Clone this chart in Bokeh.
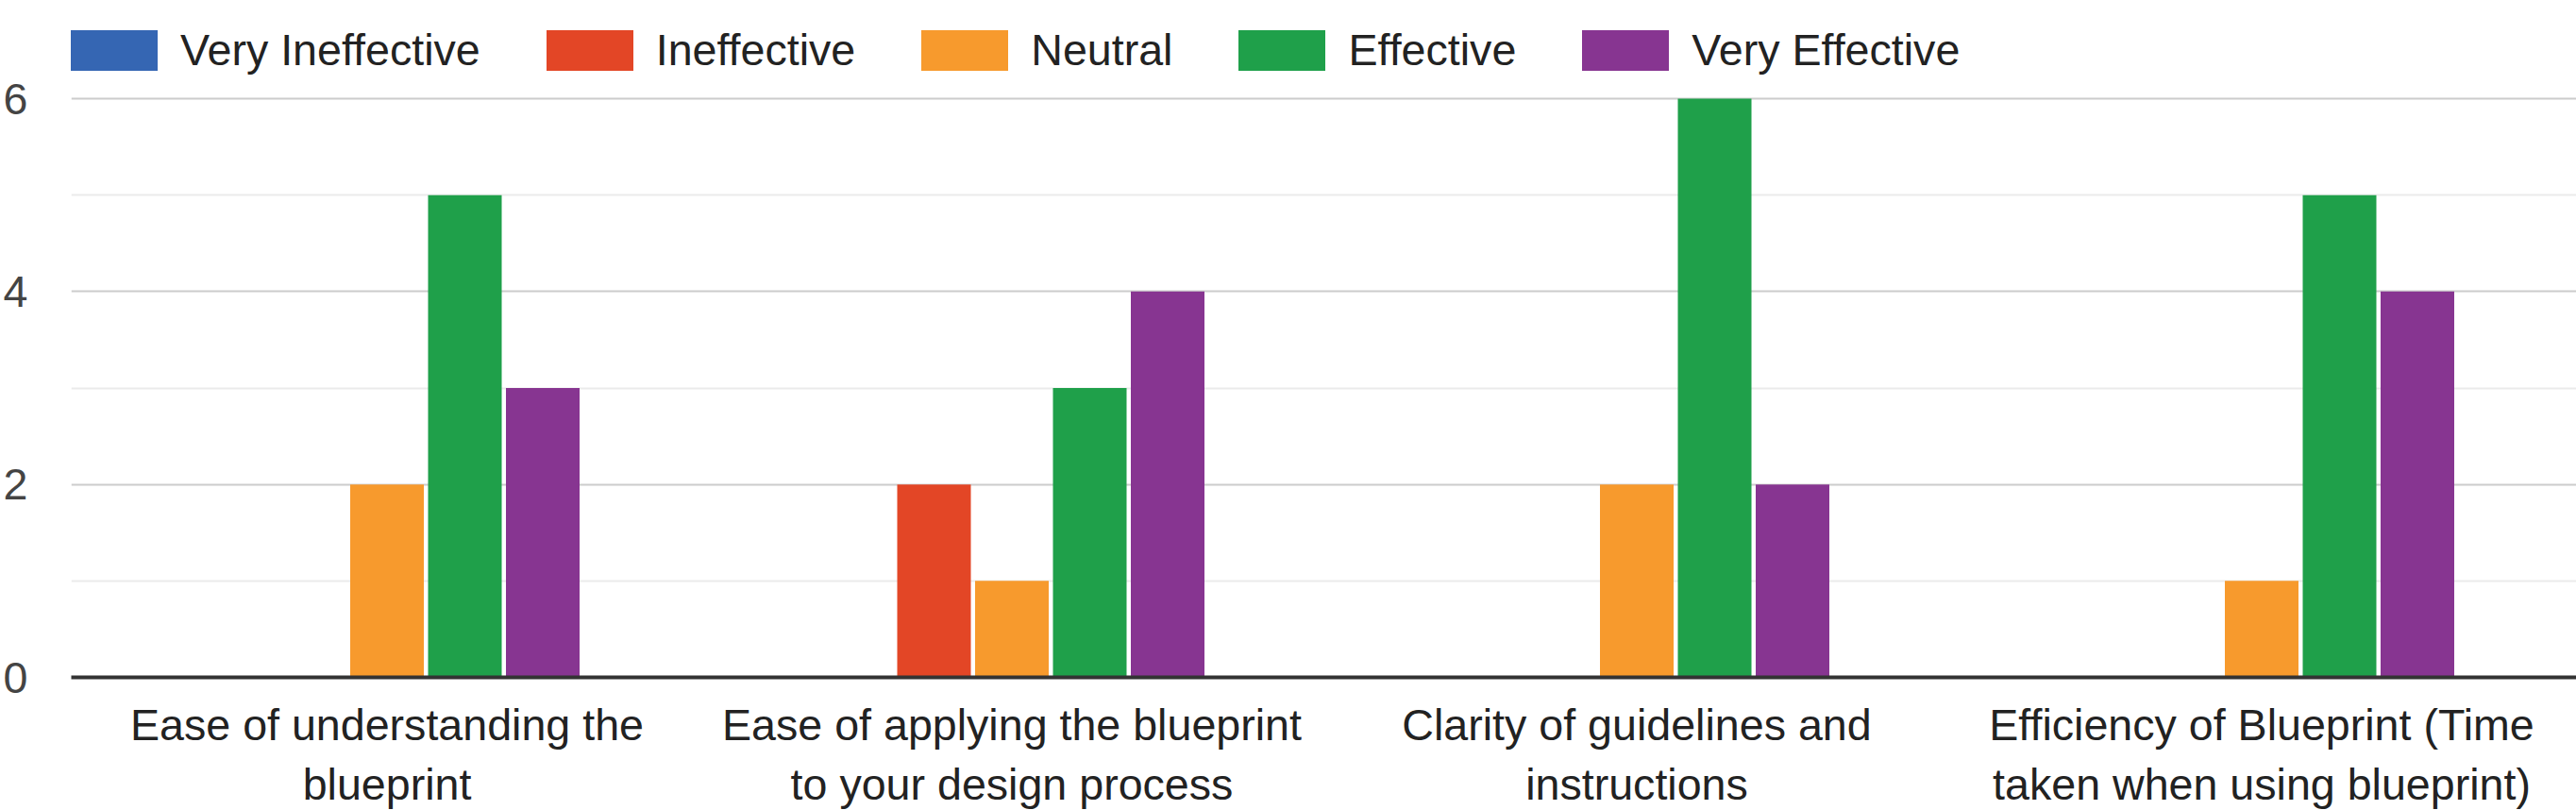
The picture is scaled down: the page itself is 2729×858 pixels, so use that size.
from bokeh.plotting import figure
from bokeh.models import (ColumnDataSource, FactorRange, Range1d, Legend, LegendItem,
                          FixedTicker, Grid)
from bokeh.transform import dodge
from bokeh.embed import file_html
from bokeh.resources import INLINE

categories = ["Ease of understanding the\nblueprint",
              "Ease of applying the blueprint\nto your design process",
              "Clarity of guidelines and\ninstructions",
              "Efficiency of Blueprint (Time\ntaken when using blueprint)"]
series_names = ["Very Ineffective", "Ineffective", "Neutral", "Effective", "Very Effective"]
very_ineffective = [0, 0, 0, 0]
ineffective = [0, 2, 0, 0]
neutral = [2, 1, 2, 1]
effective = [5, 3, 6, 5]
very_effective = [3, 4, 2, 4]
colors = ["#3566B3", "#E34626", "#F79A2D", "#1FA04A", "#873591"]
y_ticks = [0, 2, 4, 6]
y_minor = [1, 3, 5]

src = ColumnDataSource(dict(cat=categories, vi=very_ineffective, i=ineffective,
                            n=neutral, e=effective, ve=very_effective))

FONT = "Liberation Sans"
FS = "46.6px"
FRAME_H = 717
FRAME_W = 2655
top_val = 6 * FRAME_H / (FRAME_H - 104)
group_px = (FRAME_W - 7) / 4.0
xr = FactorRange(*categories, range_padding=3.5 / group_px, range_padding_units="absolute")
p = figure(x_range=xr, y_range=Range1d(0, top_val),
           frame_width=FRAME_W, frame_height=FRAME_H, output_backend="svg", toolbar_location=None,
           min_border_left=74, min_border_right=0, min_border_top=0, min_border_bottom=141)
p.outline_line_color = None
p.background_fill_color = "white"

pitch = 82.5 / group_px
bw = 78 / group_px
cols = ["vi", "i", "n", "e", "ve"]
renderers = []
for k, (c, col) in enumerate(zip(cols, colors)):
    r = p.vbar(x=dodge("cat", (k - 2) * pitch, range=p.x_range), top=c, width=bw,
               source=src, fill_color=col, line_color=None)
    renderers.append(r)

# grids
p.xgrid.grid_line_color = None
p.ygrid.ticker = FixedTicker(ticks=y_ticks)
p.ygrid.grid_line_color = "#cccccc"
p.ygrid.grid_line_width = 2
minor = Grid(dimension=1, ticker=FixedTicker(ticks=y_minor), grid_line_color="#ebebeb",
             grid_line_width=2)
p.add_layout(minor)

# axes
p.yaxis.ticker = FixedTicker(ticks=y_ticks)
p.yaxis.axis_line_color = None
p.yaxis.major_tick_line_color = None
p.yaxis.minor_tick_line_color = None
p.yaxis.major_tick_out = 0
p.yaxis.major_tick_in = 0
p.yaxis.minor_tick_out = 0
p.yaxis.major_label_standoff = 46
p.yaxis.major_label_text_font = FONT
p.yaxis.major_label_text_font_size = FS
p.yaxis.major_label_text_color = "#444444"

p.xaxis.axis_line_color = "#333333"
p.xaxis.axis_line_width = 4
p.xaxis.major_tick_line_color = None
p.xaxis.minor_tick_line_color = None
p.xaxis.major_tick_out = 0
p.xaxis.major_tick_in = 0
p.xaxis.major_label_standoff = 24
p.xaxis.major_label_text_font = FONT
p.xaxis.major_label_text_font_size = FS
p.xaxis.major_label_text_color = "#222222"
p.xaxis.major_label_text_line_height = 1.23

legend = Legend(items=[LegendItem(label=n, renderers=[r]) for n, r in zip(series_names, renderers)],
                orientation="horizontal", location=(-12, 637),
                glyph_width=115, glyph_height=54, label_height=54, label_standoff=13, spacing=58,
                padding=0, margin=0, border_line_color=None, background_fill_alpha=0,
                label_text_font=FONT, label_text_font_size=FS, label_text_color="#222222")
p.add_layout(legend, "center")

open("out.html", "w").write(file_html(p, INLINE))
